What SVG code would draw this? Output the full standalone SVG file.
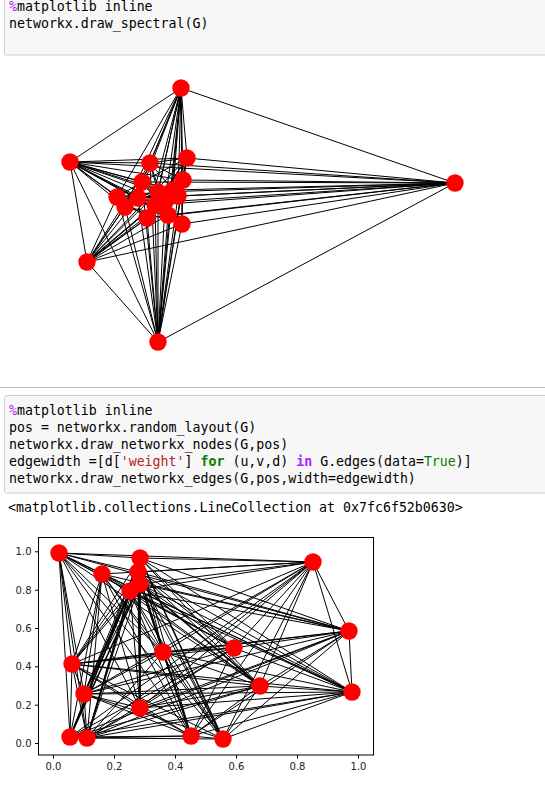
<svg xmlns="http://www.w3.org/2000/svg" width="545" height="785" viewBox="0 0 545 785">
<style>
.cell{fill:#f7f7f7;stroke:#cfcfcf;stroke-width:1}
.code{font-family:"DejaVu Sans Mono","Liberation Mono",monospace;font-size:13.25px;fill:#000}
.mag{fill:#AA22FF}
.str{fill:#BA2121}
.kw{fill:#008000;font-weight:bold}
.kwp{fill:#AA22FF;font-weight:bold}
.grn{fill:#008000}
.e{fill:none;stroke:#000;stroke-width:1}
.ew{fill:none;stroke:#000;stroke-width:1.6}
.n{fill:#ff0000}
.tick{stroke:#000;stroke-width:1}
.tl{font-family:"DejaVu Sans",sans-serif;font-size:10px;fill:#222}
</style>
<rect width="545" height="785" fill="#fff"/>
<g id="cell1">
<rect class="cell" x="4.5" y="-6" width="600" height="61" rx="2"/>
<text class="code" x="9" y="11" xml:space="preserve"><tspan class="mag">%</tspan>matplotlib inline</text>
<text class="code" x="9" y="28" xml:space="preserve">networkx.draw_spectral(G)</text>
</g>
<g id="spectral">
<g id="spectral-edges">
<path class="e" d="M181 88L70 162M181 88L455 183M181 88L150 163M181 88L187 158M181 88L142 182M181 88L183 180M181 88L117 197M181 88L125 207M181 88L138 198M181 88L158 192M181 88L173 190M181 88L165 202M181 88L147 218M181 88L168 215M181 88L182 224M181 88L178 196M181 88L155 205M181 88L158 342"/>
<path class="e" d="M70 162L87 262M70 162L158 342M70 162L150 163M70 162L187 158M70 162L142 182M70 162L183 180M70 162L117 197M70 162L125 207M70 162L138 198M70 162L158 192M70 162L173 190M70 162L165 202M70 162L168 215M70 162L178 196M70 162L155 205M70 162L182 224M70 162L147 218"/>
<path class="e" d="M455 183L87 262M455 183L158 342M455 183L187 158M455 183L183 180M455 183L150 163M455 183L142 182M455 183L158 192M455 183L173 190M455 183L165 202M455 183L168 215M455 183L182 224M455 183L178 196M455 183L155 205M455 183L147 218M455 183L138 198M455 183L70 162"/>
<path class="e" d="M87 262L158 342M87 262L150 163M87 262L187 158M87 262L142 182M87 262L183 180M87 262L117 197M87 262L125 207M87 262L138 198M87 262L158 192M87 262L173 190M87 262L165 202M87 262L147 218M87 262L168 215M87 262L182 224M87 262L155 205M87 262L178 196"/>
<path class="e" d="M158 342L150 163M158 342L187 158M158 342L142 182M158 342L183 180M158 342L117 197M158 342L125 207M158 342L138 198M158 342L158 192M158 342L173 190M158 342L165 202M158 342L147 218M158 342L168 215M158 342L182 224M158 342L178 196M158 342L155 205"/>
<path class="e" d="M150 163L187 158M150 163L142 182M150 163L183 180M150 163L158 192M150 163L173 190M187 158L142 182M187 158L183 180M187 158L173 190M187 158L178 196M142 182L117 197M142 182L125 207M142 182L158 192M142 182L168 215M183 180L182 224M183 180L138 198M117 197L173 190M117 197L178 196M125 207L168 215M125 207L182 224M138 198L178 196M138 198L168 215M158 192L182 224M173 190L147 218M165 202L117 197M147 218L187 158M168 215L150 163M182 224L142 182M155 205L187 158M155 205L183 180M147 218L183 180"/>
</g>
<g id="spectral-nodes">
<circle class="n" cx="181" cy="88" r="8.7"/>
<circle class="n" cx="70" cy="162" r="8.7"/>
<circle class="n" cx="455" cy="183" r="8.7"/>
<circle class="n" cx="87" cy="262" r="8.7"/>
<circle class="n" cx="158" cy="342" r="8.7"/>
<circle class="n" cx="150" cy="163" r="8.7"/>
<circle class="n" cx="187" cy="158" r="8.7"/>
<circle class="n" cx="142" cy="182" r="8.7"/>
<circle class="n" cx="183" cy="180" r="8.7"/>
<circle class="n" cx="117" cy="197" r="8.7"/>
<circle class="n" cx="125" cy="207" r="8.7"/>
<circle class="n" cx="138" cy="198" r="8.7"/>
<circle class="n" cx="158" cy="192" r="8.7"/>
<circle class="n" cx="173" cy="190" r="8.7"/>
<circle class="n" cx="165" cy="202" r="8.7"/>
<circle class="n" cx="147" cy="218" r="8.7"/>
<circle class="n" cx="168" cy="215" r="8.7"/>
<circle class="n" cx="182" cy="224" r="8.7"/>
<circle class="n" cx="178" cy="196" r="8.7"/>
<circle class="n" cx="155" cy="205" r="8.7"/>
</g>
</g>
<line x1="0" y1="387.5" x2="545" y2="387.5" stroke="#bdbdbd" stroke-width="1"/>
<g id="cell2">
<rect class="cell" x="4.5" y="395.5" width="600" height="97.5" rx="2"/>
<text class="code" x="9" y="415" xml:space="preserve"><tspan class="mag">%</tspan>matplotlib inline</text>
<text class="code" x="9" y="432" xml:space="preserve">pos = networkx.random_layout(G)</text>
<text class="code" x="9" y="449" xml:space="preserve">networkx.draw_networkx_nodes(G,pos)</text>
<text class="code" x="9" y="466" xml:space="preserve">edgewidth =[d[<tspan class="str">'weight'</tspan>] <tspan class="kw">for</tspan> (u,v,d) <tspan class="kwp">in</tspan> G.edges(data=<tspan class="grn">True</tspan>)]</text>
<text class="code" x="9" y="483" xml:space="preserve">networkx.draw_networkx_edges(G,pos,width=edgewidth)</text>
</g>
<g id="output">
<text class="code" x="8" y="512" xml:space="preserve">&lt;matplotlib.collections.LineCollection at 0x7fc6f52b0630&gt;</text>
</g>
<g id="random-plot">
<g id="random-edges">
<path class="e" d="M59 553L140 558M59 553L313 562M59 553L102 574M59 553L138 572M59 553L130 591M59 553L163 652M59 553L234 648M59 553L72 664M59 553L84 694M59 553L260 686M59 553L352 692M59 553L140 708M59 553L70 737M59 553L87 738M59 553L349 631M59 553L191 736M59 553L223 739"/>
<path class="e" d="M140 558L313 562M140 558L349 631M140 558L352 692M140 558L260 686M140 558L234 648M140 558L163 652M140 558L140 708M140 558L191 736M140 558L72 664M140 558L84 694M140 558L70 737M140 558L87 738"/>
<path class="e" d="M102 574L313 562M102 574L349 631M102 574L352 692M102 574L234 648M102 574L72 664M102 574L84 694M102 574L140 708M102 574L87 738M102 574L70 737M102 574L163 652M102 574L191 736M102 574L260 686M102 574L223 739"/>
<path class="e" d="M138 572L313 562M138 572L349 631M138 572L352 692M138 572L260 686M138 572L234 648M138 572L163 652M138 572L223 739M138 572L191 736M138 572L84 694M138 572L87 738M138 572L72 664M138 572L70 737"/>
<path class="e" d="M140 584L313 562M140 584L349 631M140 584L352 692M140 584L223 739M140 584L191 736M140 584L72 664M140 584L84 694M140 584L87 738M140 584L163 652M140 584L234 648"/>
<path class="e" d="M130 591L313 562M130 591L349 631M130 591L352 692M130 591L260 686M130 591L234 648M130 591L163 652M130 591L72 664M130 591L140 708M130 591L191 736M130 591L223 739"/>
<path class="ew" d="M138 572L140 708M130 591L70 737M130 591L87 738M140 584L70 737M130 591L84 694M163 652L191 736M140 558L223 739M140 584L260 686M140 584L140 708"/>
<path class="e" d="M313 562L349 631M313 562L352 692M313 562L163 652M313 562L234 648M313 562L72 664M313 562L84 694M313 562L260 686M313 562L140 708M313 562L70 737M313 562L87 738M313 562L191 736M313 562L223 739"/>
<path class="e" d="M349 631L352 692M349 631L163 652M349 631L234 648M349 631L72 664M349 631L84 694M349 631L260 686M349 631L140 708M349 631L87 738M349 631L191 736M349 631L223 739M349 631L70 737"/>
<path class="e" d="M163 652L234 648M163 652L72 664M163 652L84 694M163 652L260 686M163 652L352 692M163 652L223 739M163 652L87 738M234 648L72 664M234 648L84 694M234 648L140 708M234 648L87 738M234 648L191 736M234 648L352 692M234 648L70 737"/>
<path class="e" d="M72 664L84 694M72 664L260 686M72 664L352 692M72 664L140 708M72 664L70 737M72 664L87 738M72 664L191 736M72 664L223 739M84 694L260 686M84 694L352 692M84 694L140 708M84 694L87 738M84 694L191 736M84 694L223 739M260 686L352 692M260 686L140 708M260 686L87 738M260 686L191 736M260 686L223 739M260 686L70 737"/>
<path class="e" d="M352 692L140 708M352 692L87 738M352 692L70 737M352 692L191 736M352 692L223 739M140 708L87 738M140 708L191 736M70 737L87 738M70 737L191 736M87 738L191 736M87 738L223 739M191 736L223 739"/>
</g>
<g id="random-nodes">
<circle class="n" cx="59" cy="553" r="8.7"/>
<circle class="n" cx="140" cy="558" r="8.7"/>
<circle class="n" cx="102" cy="574" r="8.7"/>
<circle class="n" cx="138" cy="572" r="8.7"/>
<circle class="n" cx="140" cy="584" r="8.7"/>
<circle class="n" cx="130" cy="591" r="8.7"/>
<circle class="n" cx="313" cy="562" r="8.7"/>
<circle class="n" cx="349" cy="631" r="8.7"/>
<circle class="n" cx="163" cy="652" r="8.7"/>
<circle class="n" cx="234" cy="648" r="8.7"/>
<circle class="n" cx="72" cy="664" r="8.7"/>
<circle class="n" cx="84" cy="694" r="8.7"/>
<circle class="n" cx="260" cy="686" r="8.7"/>
<circle class="n" cx="352" cy="692" r="8.7"/>
<circle class="n" cx="140" cy="708" r="8.7"/>
<circle class="n" cx="70" cy="737" r="8.7"/>
<circle class="n" cx="87" cy="738" r="8.7"/>
<circle class="n" cx="191" cy="736" r="8.7"/>
<circle class="n" cx="223" cy="739" r="8.7"/>
</g>
<g id="axes">
<rect x="38.5" y="537.5" width="335" height="217.5" fill="none" stroke="#000" stroke-width="1"/>
<path class="tick" d="M53.5 755v3.5M114.5 755v3.5M175.5 755v3.5M236.5 755v3.5M297.5 755v3.5M358.5 755v3.5M38.5 743.5h-3.5M38.5 705.2h-3.5M38.5 666.8h-3.5M38.5 628.5h-3.5M38.5 590.2h-3.5M38.5 551.8h-3.5"/>
<g class="tl" text-anchor="middle">
<text x="53.5" y="769.5">0.0</text>
<text x="114.5" y="769.5">0.2</text>
<text x="175.5" y="769.5">0.4</text>
<text x="236.5" y="769.5">0.6</text>
<text x="297.5" y="769.5">0.8</text>
<text x="358.5" y="769.5">1.0</text>
</g>
<g class="tl" text-anchor="end">
<text x="31.5" y="747.1">0.0</text>
<text x="31.5" y="708.8">0.2</text>
<text x="31.5" y="670.4">0.4</text>
<text x="31.5" y="632.1">0.6</text>
<text x="31.5" y="593.8">0.8</text>
<text x="31.5" y="555.4">1.0</text>
</g>
</g>
</g>
</svg>
